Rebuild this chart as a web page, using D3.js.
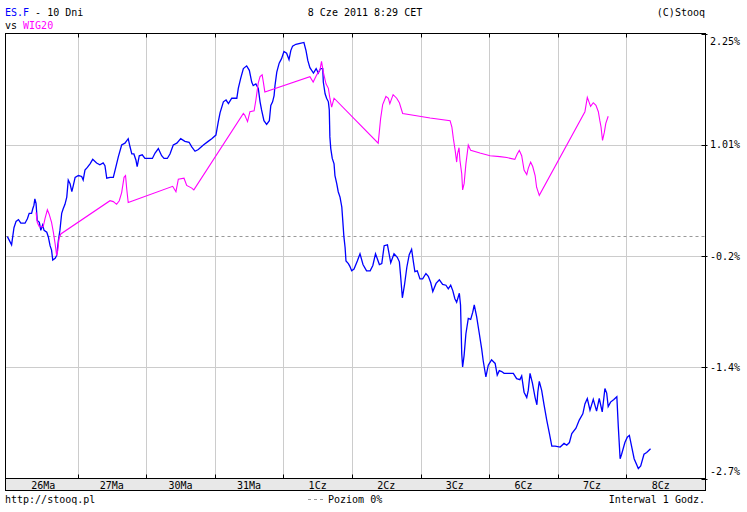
<!DOCTYPE html>
<html><head><meta charset="utf-8">
<script src="https://cdn.jsdelivr.net/npm/d3@7/dist/d3.min.js"></script>
<style>
html,body{margin:0;padding:0;background:#fff;}
text{font-family:"DejaVu Sans Mono",monospace;font-size:10px;fill:#000;}
</style></head>
<body>
<svg id="chart" width="747" height="512"></svg>
<script>
// ---- data ----
const dayLabels = ["26Ma","27Ma","30Ma","31Ma","1Cz","2Cz","3Cz","6Cz","7Cz","8Cz"];
const barsPerDay = 23;
const yTickValues = [2.25, 1.0125, -0.225, -1.4625, -2.7];
const yTickLabels = ["2.25%","1.01%","-0.2%","-1.4%","-2.7%"];
// ES.F: [hour bar, % change]
const esfSeries = [
[-0.5,-0.01],[0.9,-0.10],[1.7,0.09],[2.4,0.16],[3.2,0.18],[4.0,0.14],[5.4,0.14],[6.2,0.19],[6.8,0.25],[7.6,0.25],
[8.0,0.30],[8.4,0.34],[8.7,0.41],[9.1,0.36],[9.5,0.17],[10.2,0.15],[10.7,0.06],[11.3,0.12],[11.8,0.06],[12.7,0.04],
[13.2,-0.01],[13.8,-0.11],[14.3,-0.16],[14.7,-0.27],[15.5,-0.25],[16.0,-0.22],[16.6,-0.05],[17.1,0.06],[17.7,0.25],[18.2,0.30],
[18.8,0.35],[19.4,0.43],[19.9,0.62],[20.5,0.58],[21.1,0.49],[21.6,0.56],[22.2,0.65],[23.3,0.67],[24.4,0.66],[24.9,0.62],
[25.5,0.73],[26.3,0.76],[27.2,0.80],[28.1,0.85],[29.4,0.81],[30.5,0.79],[31.6,0.81],[32.2,0.78],[32.8,0.64],[33.9,0.65],
[35.0,0.65],[35.6,0.73],[36.7,0.88],[37.8,1.01],[38.9,1.03],[40.0,1.08],[40.6,0.99],[41.2,0.91],[41.9,0.91],[42.6,0.84],
[43.0,0.77],[43.7,0.89],[44.7,0.90],[45.6,0.86],[46.7,0.86],[48.1,0.86],[49.0,0.92],[50.1,0.97],[51.2,0.89],[52.0,0.86],
[53.1,0.86],[54.0,0.91],[55.1,1.01],[56.3,1.03],[57.6,1.08],[59.0,1.05],[60.4,1.04],[61.3,0.99],[62.4,0.94],[63.5,0.96],
[65.2,1.01],[66.8,1.05],[68.0,1.08],[69.4,1.12],[70.2,1.27],[70.8,1.37],[71.9,1.49],[72.8,1.51],[73.6,1.47],[74.7,1.53],
[76.4,1.53],[76.9,1.64],[77.7,1.75],[78.6,1.86],[79.7,1.89],[80.6,1.84],[81.4,1.71],[81.9,1.67],[82.8,1.69],[83.6,1.64],
[84.2,1.49],[84.7,1.40],[85.5,1.28],[86.4,1.24],[87.3,1.28],[87.8,1.45],[88.4,1.49],[88.9,1.56],[89.2,1.67],[89.8,1.82],
[90.6,1.92],[91.4,1.97],[92.2,2.05],[93.1,2.03],[93.9,1.96],[94.5,2.06],[95.1,2.11],[96.2,2.13],[97.6,2.14],[98.9,2.15],
[99.6,2.06],[100.2,1.95],[100.9,1.87],[102.1,1.81],[103.0,1.86],[103.7,1.81],[104.5,1.86],[105.2,1.86],[105.4,1.71],[106.0,1.58],
[106.5,1.53],[107.1,1.49],[107.4,1.40],[107.6,1.10],[107.9,0.97],[108.4,0.86],[109.0,0.80],[109.3,0.67],[109.9,0.58],[110.4,0.49],
[111.0,0.43],[111.6,0.32],[111.9,0.18],[112.3,-0.01],[112.7,-0.13],[113.0,-0.28],[113.8,-0.31],[114.3,-0.34],[114.9,-0.39],[115.7,-0.37],
[116.8,-0.28],[117.7,-0.20],[118.7,-0.32],[119.9,-0.39],[121.1,-0.39],[122.0,-0.33],[122.9,-0.20],[124.2,-0.32],[125.0,-0.31],[125.8,-0.11],
[126.9,-0.10],[128.0,-0.30],[129.1,-0.20],[130.2,-0.24],[130.9,-0.29],[131.3,-0.44],[131.9,-0.69],[132.6,-0.55],[133.4,-0.35],[134.2,-0.21],
[135.0,-0.15],[135.6,-0.29],[136.1,-0.40],[136.9,-0.39],[137.8,-0.48],[138.7,-0.48],[139.8,-0.42],[140.6,-0.45],[141.4,-0.52],[142.1,-0.62],
[143.2,-0.53],[144.3,-0.49],[145.4,-0.54],[146.5,-0.55],[147.3,-0.59],[148.1,-0.55],[148.8,-0.61],[149.5,-0.70],[150.1,-0.74],[151.0,-0.64],
[151.4,-0.77],[151.8,-1.31],[152.1,-1.46],[152.6,-1.33],[153.2,-1.09],[154.0,-0.92],[154.8,-0.93],[155.5,-0.85],[156.0,-0.77],[156.8,-0.90],
[157.7,-1.09],[158.5,-1.26],[159.0,-1.39],[159.9,-1.57],[160.7,-1.44],[161.8,-1.38],[163.0,-1.42],[163.7,-1.55],[164.4,-1.50],[165.2,-1.51],
[166.0,-1.53],[167.4,-1.53],[169.1,-1.53],[170.2,-1.59],[171.3,-1.60],[171.9,-1.56],[172.7,-1.74],[173.6,-1.80],[174.1,-1.72],[174.7,-1.53],
[175.5,-1.64],[176.4,-1.80],[177.0,-1.88],[177.3,-1.74],[177.8,-1.62],[178.6,-1.72],[179.4,-1.88],[180.3,-2.05],[181.2,-2.20],[182.0,-2.34],
[183.1,-2.34],[184.8,-2.35],[186.1,-2.31],[187.0,-2.33],[187.9,-2.30],[188.7,-2.20],[190.1,-2.14],[191.2,-2.05],[192.4,-1.98],[193.1,-1.87],
[193.9,-1.81],[194.8,-1.94],[195.9,-1.82],[197.0,-1.95],[197.9,-1.81],[198.9,-1.96],[199.8,-1.70],[200.4,-1.75],[200.9,-1.90],[201.7,-1.85],
[202.8,-1.82],[203.8,-1.79],[204.3,-2.13],[204.9,-2.48],[205.4,-2.43],[206.5,-2.30],[207.3,-2.24],[208.0,-2.22],[208.8,-2.35],[209.6,-2.48],
[211.0,-2.59],[211.8,-2.56],[212.9,-2.43],[213.8,-2.41],[215.1,-2.37]
];
// WIG20: [hour bar, % change]
const wigSeries = [
[9.1,0.26],[9.5,0.15],[10.2,0.10],[11.0,0.10],[11.5,0.10],[12.1,0.19],[12.9,0.29],[13.5,0.24],[14.3,0.15],[14.9,0.04],
[15.5,-0.09],[16.0,-0.22],[16.4,-0.16],[16.8,-0.03],[17.4,0.02],
[33.9,0.39],[35.0,0.38],[36.1,0.35],[37.0,0.39],[37.8,0.48],[38.6,0.65],[39.1,0.67],[39.5,0.52],[40.0,0.37],
[54.9,0.55],[56.0,0.49],[56.8,0.63],[58.7,0.64],[59.6,0.56],[61.3,0.53],[62.0,0.51],
[78.6,1.36],[79.1,1.34],[80.0,1.27],[80.8,1.38],[82.2,1.39],[82.8,1.51],[83.6,1.70],[84.2,1.77],[84.9,1.79],[85.3,1.71],[85.8,1.60],
[100.9,1.77],[102.0,1.71],[103.2,1.79],[104.3,1.85],[104.8,1.94],[105.4,1.82],[106.3,1.69],[107.1,1.64],[107.6,1.53],[108.2,1.43],[109.0,1.53],
[123.8,1.03],[124.6,1.30],[125.3,1.46],[126.4,1.55],[127.2,1.53],[127.7,1.47],[128.8,1.57],[130.0,1.53],[130.9,1.48],[132.0,1.36],
[135.6,1.34],[141.2,1.31],[147.9,1.28],[148.5,1.21],[149.0,1.08],[149.6,0.95],[150.1,0.82],[150.4,0.91],[150.9,0.98],[151.2,0.84],
[151.8,0.69],[152.1,0.51],[152.6,0.58],[153.2,0.80],[154.0,1.01],[154.8,0.95],[157.9,0.92],[161.3,0.89],[164.6,0.88],[166.9,0.87],
[169.6,0.85],[170.4,0.91],[171.1,0.95],[171.9,0.89],[172.7,0.73],[173.6,0.68],[174.1,0.75],[174.9,0.82],[175.6,0.77],[176.4,0.67],
[176.9,0.54],[177.8,0.45],
[193.1,1.38],[193.9,1.54],[195.0,1.44],[195.9,1.48],[196.8,1.45],[197.6,1.38],[198.1,1.28],[198.5,1.21],[199.0,1.06],[199.6,1.15],
[200.1,1.25],[200.9,1.33]
];

// ---- layout ----
const svg = d3.select("#chart");
const L = 5.5, R = 705.5, T = 33.5, B = 478.5, bandB = 490.5;
const x = d3.scaleLinear().domain([0, 230]).range([8.9, 695]);
const y = d3.scaleLinear().domain([-2.7, 2.25]).range([B, T]);
const seps = d3.range(1, dayLabels.length).map(k => k * barsPerDay);
const sx = t => Math.round(x(t)) + 0.5;

// vertical gridlines
svg.append("g").selectAll("line").data(seps).join("line")
  .attr("x1", sx).attr("x2", sx).attr("y1", T).attr("y2", B)
  .attr("stroke", "#cccccc").attr("stroke-width", 1);
// horizontal gridlines
svg.append("g").selectAll("line").data(yTickValues.slice(1, -1)).join("line")
  .attr("x1", L).attr("x2", R).attr("y1", d => Math.round(y(d)) + 0.5).attr("y2", d => Math.round(y(d)) + 0.5)
  .attr("stroke", "#cccccc").attr("stroke-width", 1);
// zero level
svg.append("line").attr("x1", L).attr("x2", R)
  .attr("y1", Math.round(y(0)) + 0.5).attr("y2", Math.round(y(0)) + 0.5)
  .attr("stroke", "#999999").attr("stroke-dasharray", "3,3");

// series
const line = d3.line().x(d => x(d[0])).y(d => y(d[1]));
svg.append("path").datum(esfSeries).attr("d", line)
  .attr("fill", "none").attr("stroke", "#0000ff").attr("stroke-width", 1.3);
svg.append("path").datum(wigSeries).attr("d", line)
  .attr("fill", "none").attr("stroke", "#ff00ff").attr("stroke-width", 1.1);

// frame
svg.append("rect").attr("x", L).attr("y", T).attr("width", R - L).attr("height", B - T)
  .attr("fill", "none").attr("stroke", "#000");
// top/bottom ticks
svg.append("g").selectAll("line").data(seps).join("line")
  .attr("x1", sx).attr("x2", sx).attr("y1", T).attr("y2", T + 4).attr("stroke", "#000");
svg.append("g").selectAll("line").data(seps).join("line")
  .attr("x1", sx).attr("x2", sx).attr("y1", B - 4).attr("y2", B).attr("stroke", "#000");

// x band
svg.append("rect").attr("x", L).attr("y", B).attr("width", R - L).attr("height", bandB - B)
  .attr("fill", "#e8e8e8").attr("stroke", "#000");
svg.append("g").selectAll("text").data(dayLabels).join("text")
  .attr("x", (d, i) => x(i * barsPerDay + barsPerDay / 2)).attr("y", 488.5)
  .attr("text-anchor", "middle").text(d => d);

// right axis
const ya = svg.append("g");
ya.selectAll("line").data(yTickValues).join("line")
  .attr("x1", R - 4).attr("x2", R + 2)
  .attr("y1", d => Math.round(y(d)) + 0.5).attr("y2", d => Math.round(y(d)) + 0.5)
  .attr("stroke", "#000");
ya.selectAll("text").data(yTickLabels).join("text")
  .attr("x", 710)
  .attr("y", (d, i) => y(yTickValues[i]) + (i === 0 ? 11 : i === yTickLabels.length - 1 ? -4 : 3.5))
  .text(d => d);

// header
const h1 = svg.append("text").attr("x", 5).attr("y", 16);
h1.append("tspan").style("fill", "#0000ff").text("ES.F");
h1.append("tspan").text(" - 10 Dni");
const h2 = svg.append("text").attr("x", 5).attr("y", 29);
h2.append("tspan").text("vs ");
h2.append("tspan").style("fill", "#ff00ff").text("WIG20");
svg.append("text").attr("x", 365).attr("y", 16).attr("text-anchor", "middle").text("8 Cze 2011 8:29 CET");
svg.append("text").attr("x", 705).attr("y", 16).attr("text-anchor", "end").text("(C)Stooq");

// footer
svg.append("text").attr("x", 5).attr("y", 503).text("http://stooq.pl");
svg.append("line").attr("x1", 308).attr("x2", 326).attr("y1", 499.5).attr("y2", 499.5)
  .attr("stroke", "#999999").attr("stroke-dasharray", "3,3");
svg.append("text").attr("x", 328).attr("y", 503).text("Poziom 0%");
svg.append("text").attr("x", 705).attr("y", 503).attr("text-anchor", "end").text("Interwal 1 Godz.");
</script>
</body></html>
